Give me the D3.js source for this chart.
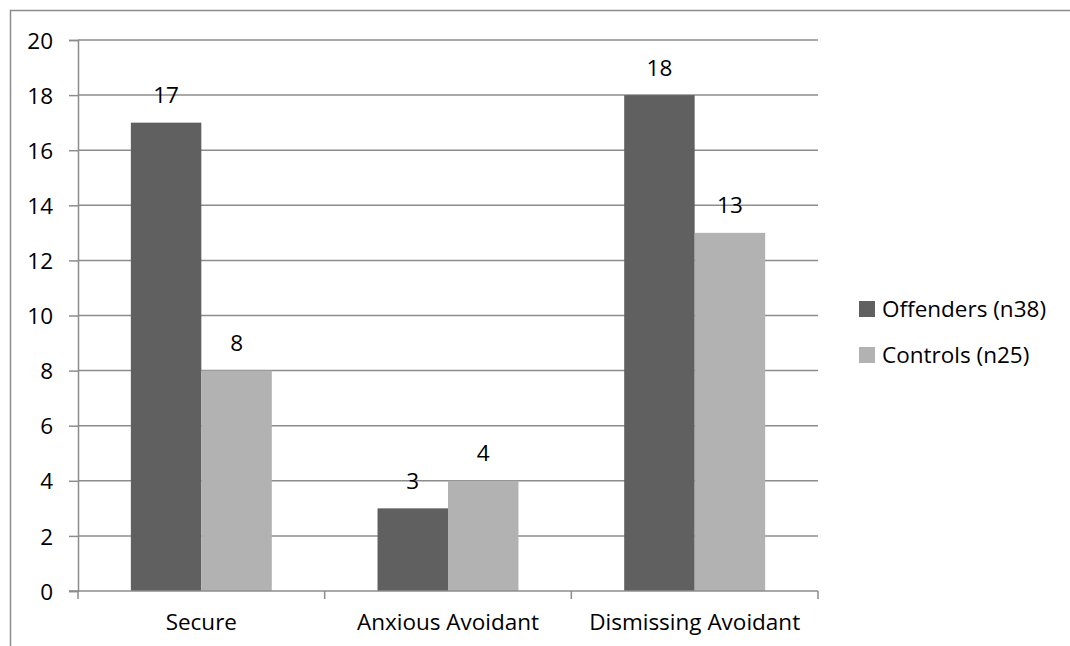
<!DOCTYPE html>
<html>
<head>
<meta charset="utf-8">
<script src="https://cdn.jsdelivr.net/npm/d3@7"></script>
<style>
  html, body { margin: 0; padding: 0; background: #fff; }
  svg text { font-family: "Open Sans", "Noto Sans", sans-serif; fill: #000; }
</style>
</head>
<body>
<svg id="chart" width="1070" height="646"></svg>
<script>
// Attachment style counts by group
const categories = ["Secure", "Anxious Avoidant", "Dismissing Avoidant"];
const seriesNames = ["Offenders (n38)", "Controls (n25)"];
const offenders = [17, 3, 18];
const controls = [8, 4, 13];
const yTicks = [0, 2, 4, 6, 8, 10, 12, 14, 16, 18, 20];
const colors = ["#606060", "#b2b2b2"];

const series = [offenders, controls];
const svg = d3.select("#chart");
const fontSize = 22.5;

// chart frame (extends past the right and bottom edges)
svg.append("rect")
  .attr("x", 10.5).attr("y", 10.5)
  .attr("width", 1200).attr("height", 800)
  .attr("fill", "none").attr("stroke", "#8c8c8c").attr("stroke-width", 1.5);

const plot = { left: 78, right: 818, top: 40, bottom: 591 };

const x0 = d3.scaleBand().domain(categories).range([plot.left, plot.right]);
// 150% gap between clusters: two bars plus 1.5 bar widths of gap
const x1 = d3.scaleBand().domain(d3.range(series.length))
  .range([0, x0.bandwidth()]).paddingOuter(0.75).paddingInner(0);
const y = d3.scaleLinear().domain([0, 20]).range([plot.bottom, plot.top]);

// gridlines
svg.append("g").selectAll("line").data(yTicks.filter(d => d > 0)).join("line")
  .attr("x1", plot.left).attr("x2", plot.right)
  .attr("y1", d => y(d)).attr("y2", d => y(d))
  .attr("stroke", "#8c8c8c").attr("stroke-width", 1.5);

// bars
const groups = svg.append("g").selectAll("g").data(categories).join("g")
  .attr("transform", d => `translate(${x0(d)},0)`);
groups.selectAll("rect")
  .data((c, i) => series.map((s, k) => ({ k, v: s[i] })))
  .join("rect")
  .attr("x", d => x1(d.k))
  .attr("width", x1.bandwidth())
  .attr("y", d => y(d.v))
  .attr("height", d => y(0) - y(d.v))
  .attr("fill", d => colors[d.k]);

// value labels
groups.selectAll("text")
  .data((c, i) => series.map((s, k) => ({ k, v: s[i] })))
  .join("text")
  .attr("x", d => x1(d.k) + x1.bandwidth() / 2)
  .attr("y", d => y(d.v) - 19.5)
  .attr("text-anchor", "middle")
  .attr("font-size", fontSize)
  .text(d => d.v);

// y axis
const yAxis = svg.append("g").attr("transform", `translate(${plot.left},0)`)
  .call(d3.axisLeft(y).tickValues(yTicks).tickSize(9).tickPadding(16));
yAxis.select(".domain").attr("stroke", "#8c8c8c").attr("stroke-width", 1.5);
yAxis.selectAll(".tick line").attr("stroke", "#8c8c8c").attr("stroke-width", 1.5);
yAxis.selectAll(".tick text").attr("font-size", fontSize).attr("font-family", null)
  .attr("dy", "0.36em");

// x axis with boundary ticks between categories
const xAxis = svg.append("g").attr("transform", `translate(0,${plot.bottom})`);
xAxis.append("line").attr("x1", plot.left - 9).attr("x2", plot.right)
  .attr("stroke", "#8c8c8c").attr("stroke-width", 1.5);
const bounds = categories.map(c => x0(c)).concat([plot.right]);
xAxis.selectAll("line.tk").data(bounds).join("line").attr("class", "tk")
  .attr("x1", d => d).attr("x2", d => d).attr("y1", 0).attr("y2", 8)
  .attr("stroke", "#8c8c8c").attr("stroke-width", 1.5);
xAxis.selectAll("text").data(categories).join("text")
  .attr("x", d => x0(d) + x0.bandwidth() / 2)
  .attr("y", 39)
  .attr("text-anchor", "middle")
  .attr("font-size", fontSize)
  .text(d => d);

// legend
const legend = svg.append("g").attr("transform", "translate(859,309)");
const items = legend.selectAll("g").data(seriesNames).join("g")
  .attr("transform", (d, i) => `translate(0,${i * 46})`);
items.append("rect").attr("x", 0).attr("y", -8).attr("width", 16).attr("height", 16)
  .attr("fill", (d, i) => colors[i]);
items.append("text").attr("x", 23).attr("y", 0).attr("dy", "0.36em")
  .attr("font-size", fontSize).text(d => d);
</script>
</body>
</html>
